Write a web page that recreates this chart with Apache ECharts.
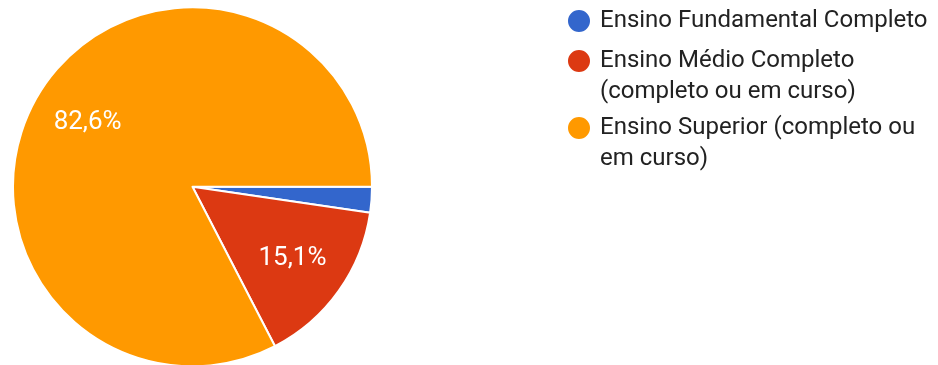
<!DOCTYPE html>
<html>
<head>
<meta charset="utf-8">
<script src="https://cdn.jsdelivr.net/npm/echarts@6/dist/echarts.min.js"></script>
<style>
  html, body { margin: 0; padding: 0; background: #fff; }
  #chart { width: 938px; height: 365px; }
</style>
</head>
<body>
<div id="chart"></div>
<script>
// Escolaridade dos respondentes
const categories = [
  'Ensino Fundamental Completo',
  'Ensino Médio Completo (completo ou em curso)',
  'Ensino Superior (completo ou em curso)'
];
const legendLines = [
  ['Ensino Fundamental Completo'],
  ['Ensino Médio Completo', '(completo ou em curso)'],
  ['Ensino Superior (completo ou', 'em curso)']
];
const shares = [2.3, 15.1, 82.6];
const colors = ['#3366cc', '#dc3912', '#ff9900'];

const center = [192.5, 186.8];
const outerR = 179.5;
const labelMinShare = 5;

const pieData = categories.map((name, i) => ({ name, value: shares[i] }));
const fmt = v => v.toFixed(1).replace('.', ',') + '%';

// one legend block per category so each marker sits on its first text line
const legendTops = [5.5, 14.5, 81.5];
const legends = categories.map((name, i) => ({
  data: [name],
  orient: 'vertical',
  left: 566,
  top: legendTops[i],
  padding: 0,
  icon: 'circle',
  itemWidth: 24,
  itemHeight: 24,
  selectedMode: false,
  formatter: () => (legendLines[i].length > 1 ? '\n' : '') + legendLines[i].join('\n'),
  textStyle: {
    fontFamily: 'Roboto',
    fontSize: 24,
    lineHeight: 31,
    color: '#222222',
    padding: [0, 0, 0, 4]
  }
}));

const chart = echarts.init(document.getElementById('chart'), null, { renderer: 'canvas' });
chart.setOption({
  animation: false,
  color: colors,
  legend: legends,
  series: [
    {
      type: 'pie',
      center: center,
      radius: outerR,
      startAngle: 0,
      clockwise: true,
      silent: true,
      label: { show: false },
      labelLine: { show: false },
      itemStyle: { borderColor: '#ffffff', borderWidth: 2 },
      data: pieData
    },
    {
      // transparent ring that carries the percentage labels
      type: 'pie',
      center: center,
      radius: [60, outerR],
      startAngle: 0,
      clockwise: true,
      silent: true,
      itemStyle: { color: 'rgba(0,0,0,0)', borderWidth: 0 },
      labelLine: { show: false },
      label: {
        position: 'inside',
        fontFamily: 'Roboto',
        fontSize: 26,
        color: '#ffffff',
        formatter: p => p.value >= labelMinShare ? fmt(p.value) : ''
      },
      data: pieData
    }
  ]
});
</script>
</body>
</html>
